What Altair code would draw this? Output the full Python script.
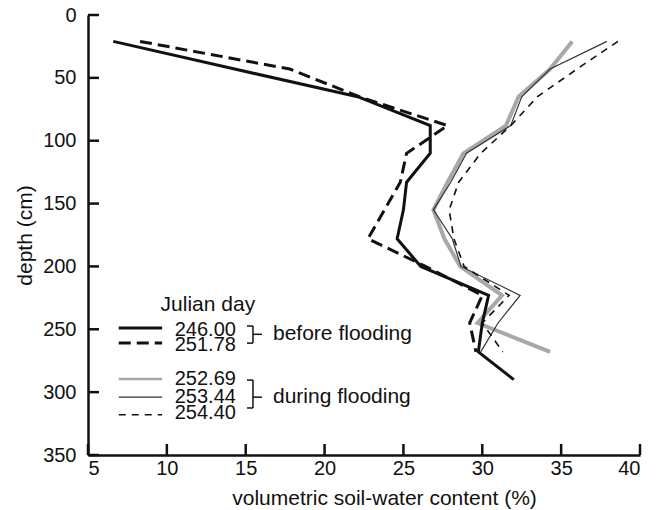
import altair as alt
import pandas as pd

# ---- data ----
depths = [21, 43, 65, 88, 110, 133, 155, 178, 200, 223, 245, 268, 290]
days = ["246.00", "251.78", "252.69", "253.44", "254.40"]
swc_246_00 = [6.6, 14.3, 22.1, 26.7, 26.7, 25.2, 25.0, 24.6, 26.1, 30.4, 30.0, 29.75, 32.0]
swc_251_78 = [8.3, 17.8, 22.2, 27.8, 25.2, 24.8, 23.8, 22.75, 26.4, 30.0, 29.2, 29.6]
swc_252_69 = [35.7, 34.3, 32.3, 31.5, 28.8, 27.8, 26.9, 27.6, 28.6, 31.25, 29.7, 34.3]
swc_253_44 = [37.9, 34.3, 32.5, 31.8, 29.0, 28.0, 26.9, 28.1, 28.65, 32.4, 31.0, 29.9]
swc_254_40 = [38.6, 36.0, 33.5, 31.8, 29.9, 28.5, 27.9, 28.2, 28.85, 31.7, 30.0, 31.3]
values = [swc_246_00, swc_251_78, swc_252_69, swc_253_44, swc_254_40]

x_ticks = [5, 10, 15, 20, 25, 30, 35, 40]
y_ticks = [0, 50, 100, 150, 200, 250, 300, 350]

# legend (in data units of the chart's own scales)
legend_title = "Julian day"
legend_title_pos = [12.6, 231]
legend_sample_x = [6.95, 9.7]
legend_label_x = 10.5
legend_line_depth = [249, 261, 289.6, 304, 318]
legend_label_depth = [250.3, 262.7, 289.6, 304, 316.3]
groups = ["before flooding", "during flooding"]
group_top = [247.4, 290.4]
group_bottom = [261, 312.6]
group_mid = [254, 304]
bracket_x = [15.08, 15.46, 16.03]
group_label_x = 16.73

FONT = "Liberation Sans"
FS_TICK = 20
FS = 21
FS_NUM = 20

styles = {
    "246.00": dict(color="#111111", strokeWidth=3.0),
    "251.78": dict(color="#111111", strokeWidth=3.0, strokeDash=[12, 6]),
    "252.69": dict(color="#a8a8a8", strokeWidth=4.0),
    "253.44": dict(color="#333333", strokeWidth=1.2),
    "254.40": dict(color="#111111", strokeWidth=1.6, strokeDash=[7, 6]),
}
legend_styles = dict(styles)
legend_styles["252.69"] = dict(color="#a8a8a8", strokeWidth=2.5)
draw_order = ["252.69", "253.44", "254.40", "251.78", "246.00"]

xs = alt.Scale(domain=[5, 40], nice=False, zero=False)
ys = alt.Scale(domain=[0, 350], reverse=True, nice=False, zero=False)

layers = []
for day in draw_order:
    i = days.index(day)
    vals = values[i]
    df = pd.DataFrame({"swc": vals, "depth": depths[:len(vals)], "k": range(len(vals))})
    leg = pd.DataFrame({"swc": legend_sample_x,
                        "depth": [legend_line_depth[i]] * 2, "k": [0, 1]})
    for d, st in ((df, styles[day]), (leg, legend_styles[day])):
        layers.append(
            alt.Chart(d).mark_line(strokeCap="butt", strokeJoin="miter", **st).encode(
                x=alt.X("swc:Q", scale=xs),
                y=alt.Y("depth:Q", scale=ys),
                order="k:Q",
            )
        )

# axes (inward ticks drawn as rules)
axes_base = alt.Chart(pd.DataFrame({"swc": [5], "depth": [0]})).mark_point(opacity=0).encode(
    x=alt.X("swc:Q", scale=xs, axis=alt.Axis(
        values=x_ticks, tickSize=0, domainWidth=2.5, domainColor="#111111",
        labelFont=FONT, labelFontSize=FS_TICK, labelColor="#111111", labelPadding=3,
        title="volumetric soil-water content (%)", titleFont=FONT, titleFontSize=FS,
        titleFontWeight="normal", titleColor="#111111", titleX=296, titleY=43,
        titleBaseline="middle", titleAlign="center", grid=False)),
    y=alt.Y("depth:Q", scale=ys, axis=alt.Axis(
        values=y_ticks, tickSize=0, domainWidth=2.5, domainColor="#111111",
        labelFont=FONT, labelFontSize=FS_TICK, labelColor="#111111", labelPadding=12,
        title="depth (cm)", titleFont=FONT, titleFontSize=FS, titleFontWeight="normal",
        titleColor="#111111", titleX=-63, titleAngle=-90,
        titleBaseline="middle", titleAlign="center", grid=False)),
)
layers.insert(0, axes_base)

ytick = alt.Chart(pd.DataFrame({"depth": y_ticks})).mark_rule(
    color="#111111", strokeWidth=2.5).encode(
    y=alt.Y("depth:Q", scale=ys), x=alt.value(0), x2=alt.value(11))
xtick = alt.Chart(pd.DataFrame({"swc": x_ticks})).mark_rule(
    color="#111111", strokeWidth=2.5).encode(
    x=alt.X("swc:Q", scale=xs), y=alt.value(440), y2=alt.value(429))
layers += [ytick, xtick]

# legend texts
lab = pd.DataFrame({"swc": [legend_label_x] * len(days), "depth": legend_label_depth, "t": days})
layers.append(alt.Chart(lab).mark_text(align="left", baseline="middle", font=FONT,
                                       fontSize=FS_NUM, color="#111111").encode(
    x=alt.X("swc:Q", scale=xs), y=alt.Y("depth:Q", scale=ys), text="t:N"))
tit = pd.DataFrame({"swc": [legend_title_pos[0]], "depth": [legend_title_pos[1]], "t": [legend_title]})
layers.append(alt.Chart(tit).mark_text(align="center", baseline="middle", font=FONT,
                                       fontSize=FS, color="#111111").encode(
    x=alt.X("swc:Q", scale=xs), y=alt.Y("depth:Q", scale=ys), text="t:N"))
glab = pd.DataFrame({"swc": [group_label_x] * 2, "depth": group_mid, "t": groups})
layers.append(alt.Chart(glab).mark_text(align="left", baseline="middle", font=FONT,
                                        fontSize=FS, color="#111111").encode(
    x=alt.X("swc:Q", scale=xs), y=alt.Y("depth:Q", scale=ys), text="t:N"))

# brackets
rows = []
for top, bot, mid in zip(group_top, group_bottom, group_mid):
    rows.append({"x": bracket_x[1], "x2": bracket_x[1], "y": top, "y2": bot})
    rows.append({"x": bracket_x[0], "x2": bracket_x[1], "y": top, "y2": top})
    rows.append({"x": bracket_x[0], "x2": bracket_x[1], "y": bot, "y2": bot})
    rows.append({"x": bracket_x[1], "x2": bracket_x[2], "y": mid, "y2": mid})
layers.append(alt.Chart(pd.DataFrame(rows)).mark_rule(color="#111111", strokeWidth=1.5).encode(
    x=alt.X("x:Q", scale=xs), x2="x2:Q", y=alt.Y("y:Q", scale=ys), y2="y2:Q"))

chart = alt.layer(*layers).properties(
    width=552, height=440,
    autosize=alt.AutoSizeParams(type="none"),
    padding={"left": 88, "top": 15, "right": 20, "bottom": 55},
    background="white",
).configure_view(stroke=None)

chart.save("out.html", embed_options={"renderer": "svg", "actions": False})
